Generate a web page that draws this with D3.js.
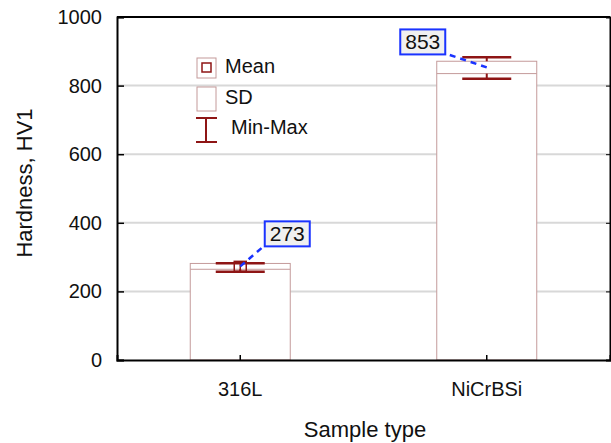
<!DOCTYPE html>
<html>
<head>
<meta charset="utf-8">
<script src="https://cdn.jsdelivr.net/npm/d3@7"></script>
<style>
  body { margin: 0; background: #fff; }
  text { font-family: Arial, "Liberation Sans", sans-serif; fill: #111; }
</style>
</head>
<body>
<div id="chart"></div>
<script>
'use strict'
// data
const samples = ['316L', 'NiCrBSi']
const means = [273, 853]
const sds = [8.5, 18]
const mins = [257, 820]
const maxs = [282, 883]
const yTicks = [0, 200, 400, 600, 800, 1000]

const width = 611
const height = 443
const margin = { top: 17, right: 1, bottom: 83, left: 117 }

const boxStroke = '#c49a9a'
const whiskerColor = '#8e1515'
const labelBlue = '#1a33ff'

const svg = d3.select('#chart').append('svg')
  .attr('width', width)
  .attr('height', height)

const x = d3.scaleBand()
  .domain(samples)
  .range([margin.left, width - margin.right])

const y = d3.scaleLinear()
  .domain([0, 1000])
  .range([height - margin.bottom, margin.top])

// gridlines
svg.append('g')
  .selectAll('line')
  .data(yTicks.filter(d => d > 0 && d < 1000))
  .enter().append('line')
  .attr('x1', margin.left)
  .attr('x2', width - margin.right)
  .attr('y1', d => y(d))
  .attr('y2', d => y(d))
  .attr('stroke', '#d8d8d8')
  .attr('stroke-width', 2)

const bw = 100
const ww = 49

// boxes (0 .. mean+SD, with a line at mean-SD)
const g = svg.append('g')
samples.forEach((s, i) => {
  const cx = x(s) + x.bandwidth() / 2
  g.append('rect')
    .attr('x', cx - bw / 2)
    .attr('y', y(means[i] + sds[i]))
    .attr('width', bw)
    .attr('height', y(0) - y(means[i] + sds[i]))
    .attr('fill', '#fff')
    .attr('stroke', boxStroke)
    .attr('stroke-width', 1)
  g.append('line')
    .attr('x1', cx - bw / 2).attr('x2', cx + bw / 2)
    .attr('y1', y(means[i] - sds[i])).attr('y2', y(means[i] - sds[i]))
    .attr('stroke', boxStroke)
  // whiskers
  g.append('line')
    .attr('x1', cx).attr('x2', cx)
    .attr('y1', y(maxs[i])).attr('y2', y(means[i] + sds[i]))
    .attr('stroke', whiskerColor).attr('stroke-width', 2)
  g.append('line')
    .attr('x1', cx).attr('x2', cx)
    .attr('y1', y(means[i] - sds[i])).attr('y2', y(mins[i]))
    .attr('stroke', whiskerColor).attr('stroke-width', 2)
  ;[maxs[i], mins[i]].forEach(v => {
    g.append('line')
      .attr('x1', cx - ww / 2).attr('x2', cx + ww / 2)
      .attr('y1', y(v)).attr('y2', y(v))
      .attr('stroke', whiskerColor).attr('stroke-width', 2.5)
  })
  // mean marker (only visible on the first sample in the original)
  if (i === 0) {
    g.append('rect')
      .attr('x', cx - 6).attr('y', y(means[i]) - 5)
      .attr('width', 12).attr('height', 10)
      .attr('fill', 'none')
      .attr('stroke', whiskerColor).attr('stroke-width', 1.5)
    g.append('line')
      .attr('x1', cx).attr('x2', cx)
      .attr('y1', y(means[i]) - 5).attr('y2', y(means[i]) + 5)
      .attr('stroke', whiskerColor).attr('stroke-width', 1.5)
  }
})

// axes
svg.append('g')
  .attr('transform', 'translate(' + margin.left + ',0)')
  .call(d3.axisLeft(y).tickValues(yTicks).tickSize(-7).tickPadding(15).tickFormat(d3.format('d')))
  .call(a => a.select('.domain').attr('stroke-width', 2))
  .call(a => a.selectAll('.tick line').attr('stroke-width', 1.5))
  .call(a => a.selectAll('text').style('font-size', '20px').attr('fill', '#111'))

svg.append('g')
  .attr('transform', 'translate(' + (width - margin.right) + ',0)')
  .call(d3.axisRight(y).tickValues(yTicks).tickSize(-4).tickFormat(''))
  .call(a => a.select('.domain').attr('stroke-width', 2))

svg.append('g')
  .attr('transform', 'translate(0,' + (height - margin.bottom) + ')')
  .call(d3.axisBottom(x).tickSize(-5).tickPadding(22))
  .call(a => a.select('.domain').attr('stroke-width', 2))
  .call(a => a.selectAll('.tick line').attr('stroke-width', 1.5))
  .call(a => a.selectAll('text').style('font-size', '20px').attr('fill', '#111'))

svg.append('line')
  .attr('x1', margin.left).attr('x2', width - margin.right)
  .attr('y1', margin.top).attr('y2', margin.top)
  .attr('stroke', '#000').attr('stroke-width', 2)

// axis titles
svg.append('text')
  .attr('text-anchor', 'middle')
  .attr('transform', 'translate(32,' + 183 + ')rotate(-90)')
  .style('font-size', '22px')
  .text('Hardness, HV1')

svg.append('text')
  .attr('text-anchor', 'middle')
  .attr('x', 365).attr('y', 437)
  .style('font-size', '22px')
  .text('Sample type')

// value labels
const labelOffsets = [[47, -33], [-64, -26]]
samples.forEach((s, i) => {
  const cx = x(s) + x.bandwidth() / 2
  const my = y(means[i])
  const lx = cx + labelOffsets[i][0]
  const ly = my + labelOffsets[i][1]
  const bwid = 45
  const bx = lx - bwid / 2
  svg.append('line')
    .attr('x1', cx).attr('y1', my)
    .attr('x2', i === 0 ? bx : bx + bwid).attr('y2', ly + 12)
    .attr('stroke', labelBlue).attr('stroke-width', 2.5)
    .attr('stroke-dasharray', '6,5')
  svg.append('rect')
    .attr('x', bx).attr('y', ly - 12)
    .attr('width', bwid).attr('height', 25)
    .attr('fill', '#f0f0f0')
    .attr('stroke', labelBlue).attr('stroke-width', 2)
  svg.append('text')
    .attr('x', bx + bwid / 2).attr('y', ly + 8)
    .attr('text-anchor', 'middle')
    .style('font-size', '21px')
    .text(means[i])
})

// legend
const lg = svg.append('g')
lg.append('rect').attr('x', 197).attr('y', 58).attr('width', 19).attr('height', 20)
  .attr('fill', '#fff').attr('stroke', boxStroke)
lg.append('rect').attr('x', 202).attr('y', 63).attr('width', 9).attr('height', 9)
  .attr('fill', 'none').attr('stroke', whiskerColor).attr('stroke-width', 1.5)
lg.append('text').attr('x', 225).attr('y', 73).style('font-size', '20px').text('Mean')
lg.append('rect').attr('x', 197).attr('y', 87).attr('width', 19).attr('height', 24)
  .attr('fill', '#fff').attr('stroke', boxStroke)
lg.append('text').attr('x', 225).attr('y', 104).style('font-size', '20px').text('SD')
lg.append('line').attr('x1', 206).attr('x2', 206).attr('y1', 118).attr('y2', 142)
  .attr('stroke', whiskerColor).attr('stroke-width', 2)
;[118, 142].forEach(v => {
  lg.append('line').attr('x1', 196).attr('x2', 217).attr('y1', v).attr('y2', v)
    .attr('stroke', whiskerColor).attr('stroke-width', 2)
})
lg.append('text').attr('x', 231).attr('y', 134).style('font-size', '20px').text('Min-Max')
</script>
</body>
</html>
